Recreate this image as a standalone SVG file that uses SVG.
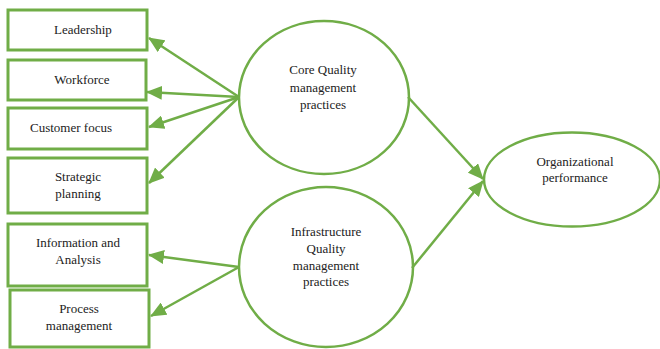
<svg xmlns="http://www.w3.org/2000/svg" width="660" height="349" viewBox="0 0 660 349">
<style>
.box{fill:#fff;stroke:#70AD47;stroke-width:3}
.ell{fill:#fff;stroke:#70AD47;stroke-width:2.5}
.lbl{font-family:"Liberation Serif","Times New Roman",serif;font-size:13px;fill:#222;text-anchor:middle}
.con{stroke:#70AD47;stroke-width:2.5;fill:none;marker-end:url(#ah)}
</style>
<defs>
<marker id="ah" markerUnits="userSpaceOnUse" markerWidth="16" markerHeight="14" refX="15" refY="7" orient="auto">
<path d="M0,0 L16,7 L0,14 Z" fill="#70AD47"/>
</marker>
</defs>
<rect width="660" height="349" fill="#fff"/>
<g id="leadership"><rect class="box" x="8" y="10" width="139" height="40"/><text class="lbl" x="83" y="34">Leadership</text></g>
<g id="workforce"><rect class="box" x="8" y="60" width="138" height="40"/><text class="lbl" x="82" y="84">Workforce</text></g>
<g id="customer"><rect class="box" x="8" y="108" width="139" height="41"/><text class="lbl" x="71" y="132">Customer focus</text></g>
<g id="strategic"><rect class="box" x="8" y="158" width="139" height="55"/><text class="lbl" x="78" y="181">Strategic</text><text class="lbl" x="78" y="198">planning</text></g>
<g id="information"><rect class="box" x="8" y="224" width="139" height="62"/><text class="lbl" x="78" y="247">Information and</text><text class="lbl" x="78" y="264">Analysis</text></g>
<g id="process"><rect class="box" x="10" y="290" width="139" height="57"/><text class="lbl" x="79" y="313">Process</text><text class="lbl" x="79" y="330">management</text></g>
<g id="core"><ellipse class="ell" cx="324" cy="97.5" rx="85" ry="76.5"/><text class="lbl" x="323" y="74">Core Quality</text><text class="lbl" x="323" y="91.5">management</text><text class="lbl" x="323" y="109">practices</text></g>
<g id="infra"><ellipse class="ell" cx="326" cy="267" rx="87" ry="80"/><text class="lbl" x="326" y="236">Infrastructure</text><text class="lbl" x="326" y="253">Quality</text><text class="lbl" x="326" y="270">management</text><text class="lbl" x="326" y="286">practices</text></g>
<g id="org"><ellipse class="ell" cx="572" cy="179.5" rx="88" ry="47"/><text class="lbl" x="575" y="166">Organizational</text><text class="lbl" x="575" y="182">performance</text></g>
<g id="connectors">
<line class="con" x1="239" y1="97" x2="149" y2="38"/>
<line class="con" x1="239" y1="97" x2="147" y2="92"/>
<line class="con" x1="239" y1="97" x2="149" y2="127"/>
<line class="con" x1="239" y1="97" x2="149" y2="183"/>
<line class="con" x1="239" y1="267" x2="149" y2="255"/>
<line class="con" x1="239" y1="267" x2="151" y2="316"/>
<line class="con" x1="408" y1="97" x2="483" y2="179"/>
<line class="con" x1="412" y1="268" x2="483" y2="181"/>
</g>
</svg>
